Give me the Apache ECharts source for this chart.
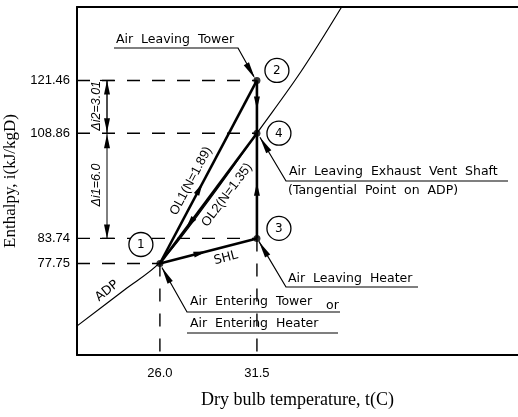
<!DOCTYPE html>
<html><head><meta charset="utf-8">
<script src="https://cdn.jsdelivr.net/npm/echarts@6/dist/echarts.min.js"></script>
<style>html,body{margin:0;padding:0;background:#fff}#c{width:518px;height:417px}</style>
</head><body><div id="c"></div>
<script>
// ---- data ----
const xTicks = [26.0, 31.5];
const yTicks = [77.75, 83.74, 108.86, 121.46];
const pointNames = ['1', '2', '3', '4'];
const pointT = [26.0, 31.5, 31.5, 31.5];
const pointI = [77.75, 121.46, 83.74, 108.86];
const adpT = [21.29, 24.0, 26.0, 28.8, 31.5, 34.0, 36.3];
const adpI = [62.8, 71.5, 78.0, 93.0, 108.86, 123.6, 139.0];
// process lines (index pairs into the point arrays)
const processLines = [[0, 1], [0, 3], [0, 2], [2, 1]];
const X_MIN = 21.3, X_MAX = 46.3, Y_MIN = 55.9, Y_MAX = 139.0;

const chart = echarts.init(document.getElementById('c'), null, {renderer: 'canvas'});
const BLK = '#000';
const P = i => [pointT[i], pointI[i]];

const series = [];
series.push({type: 'line', data: adpT.map((t, i) => [t, adpI[i]]), smooth: 0.35, symbol: 'none',
  lineStyle: {color: BLK, width: 1.2}, silent: true, z: 2});
// dashed guide lines
const dashed = [];
pointT.forEach((t, i) => dashed.push([[X_MIN, pointI[i]], [t, pointI[i]]]));
dashed.push([[pointT[0], pointI[0]], [pointT[0], Y_MIN]]);
dashed.push([[pointT[2], pointI[2]], [pointT[2], Y_MIN]]);
dashed.forEach(d => series.push({type: 'line', data: d, symbol: 'none', silent: true,
  lineStyle: {color: BLK, width: 1.4, type: [13, 12]}, z: 1}));
processLines.forEach(([a, b]) => series.push({type: 'line', data: [P(a), P(b)], symbol: 'none', silent: true,
  lineStyle: {color: BLK, width: 2.6}, z: 3}));
series.push({type: 'scatter', data: pointT.map((t, i) => [t, pointI[i]]), symbolSize: 7,
  itemStyle: {color: BLK}, silent: true, z: 4});

const axisCommon = {type: 'value', splitLine: {show: false}, axisTick: {show: false},
  axisLine: {show: true, onZero: false, lineStyle: {color: BLK, width: 2}}};
chart.setOption({
  animation: false,
  backgroundColor: '#fff',
  grid: {left: 77, right: 0, top: 7, bottom: 62, containLabel: false, outerBoundsMode: 'none'},
  xAxis: [
    Object.assign({}, axisCommon, {min: X_MIN, max: X_MAX, position: 'bottom',
      axisLabel: {customValues: xTicks, formatter: v => v.toFixed(1), color: BLK, fontSize: 13,
        fontFamily: 'Liberation Sans', margin: 12},
      name: 'Dry bulb temperature, t(C)', nameLocation: 'middle', nameGap: 36,
      nameTextStyle: {fontFamily: 'Liberation Serif', fontSize: 18, color: BLK}}),
    Object.assign({}, axisCommon, {min: X_MIN, max: X_MAX, position: 'top', axisLabel: {show: false}})
  ],
  yAxis: [
    Object.assign({}, axisCommon, {min: Y_MIN, max: Y_MAX, position: 'left',
      axisLabel: {customValues: yTicks, formatter: v => v.toFixed(2), color: BLK, fontSize: 13,
        fontFamily: 'Liberation Sans', margin: 7},
      name: 'Enthalpy, i(kJ/kgD)', nameLocation: 'middle', nameGap: 56, nameRotate: 90,
      nameTextStyle: {fontFamily: 'Liberation Serif', fontSize: 17, color: BLK}})
  ],
  series: series
});

// ---- annotations (pixel layout derived from the data points) ----
const px = i => chart.convertToPixel({xAxisIndex: 0, yAxisIndex: 0}, P(i));
const p = [0, 1, 2, 3].map(px);
const yPx = v => chart.convertToPixel({yAxisIndex: 0}, v);
const G = [];
const FONT = '12.5px "DejaVu Sans"';
function arrow(tip, dir, L, w) {
  const d = Math.hypot(dir[0], dir[1]); const ux = dir[0] / d, uy = dir[1] / d;
  const nx = -uy, ny = ux;
  const bx = tip[0] - L * ux, by = tip[1] - L * uy;
  G.push({type: 'polygon', shape: {points: [tip, [bx + w * nx, by + w * ny], [bx - w * nx, by - w * ny]]},
    style: {fill: BLK}, silent: true, z: 20});
}
function midArrow(a, b, f, L, w) {
  const tip = [a[0] + (b[0] - a[0]) * f, a[1] + (b[1] - a[1]) * f];
  arrow(tip, [b[0] - a[0], b[1] - a[1]], L || 12, w || 3);
}
function line(pts, width) {
  G.push({type: 'polyline', shape: {points: pts}, style: {stroke: BLK, lineWidth: width || 1.2, fill: null}, silent: true, z: 20});
}
function text(str, x, y, opts) {
  opts = opts || {};
  G.push({type: 'text', x: x, y: y, rotation: opts.rot || 0, silent: true, z: opts.z || 25,
    style: {text: str, font: opts.font || FONT, fill: BLK, align: opts.align || 'left', verticalAlign: 'middle',
      textAlign: opts.align || 'left', textVerticalAlign: 'middle'}});
}
function circleLabel(c, str) {
  G.push({type: 'circle', shape: {cx: c[0], cy: c[1], r: 12}, style: {fill: '#fff', stroke: BLK, lineWidth: 1.3}, silent: true, z: 22});
  text(str, c[0], c[1] + 0.5, {align: 'center', font: '12px "DejaVu Sans"', z: 30});
}
// mid-line arrows
midArrow(p[0], p[1], 0.44, 13, 3);          // OL1 towards 2
midArrow(p[3], p[0], 0.73, 13, 3);          // OL2
midArrow(p[0], p[2], 0.48, 13, 3);          // SHL
midArrow(p[2], p[3], 0.53, 13, 3);          // 3 -> 4
midArrow(p[1], p[3], 0.55, 13, 3);          // 2 -> 4
// circles
circleLabel([p[0][0] - 19, p[0][1] - 19], '1');
circleLabel([p[1][0] + 20, p[1][1] - 10], '2');
circleLabel([p[3][0] + 22, p[3][1]], '4');
circleLabel([p[2][0] + 22, p[2][1] - 10], '3');
// Air Leaving Tower
text('Air  Leaving  Tower', 116, 40);
line([[114, 48], [238, 48], [p[1][0] - 3, p[1][1] - 4]], 1.2);
arrow([p[1][0] - 2, p[1][1] - 2], [p[1][0] - 238, p[1][1] - 48], 17, 3);
// Air Leaving Exhaust Vent Shaft
text('Air  Leaving  Exhaust  Vent  Shaft', 289, 172);
text('(Tangential  Point  on  ADP)', 288, 191);
line([[508, 181], [286, 181], [p[3][0] + 3, p[3][1] + 4]], 1.2);
arrow([p[3][0] + 3, p[3][1] + 4], [p[3][0] - 286, p[3][1] - 181], 17, 3);
// Air Leaving Heater
text('Air  Leaving  Heater', 288, 279);
line([[418, 287], [286, 287], [p[2][0] + 2, p[2][1] + 3]], 1.2);
arrow([p[2][0] + 2, p[2][1] + 3], [p[2][0] - 286, p[2][1] - 287], 17, 3);
// Air Entering Tower / Heater
text('Air  Entering  Tower', 190, 302);
text('or', 326, 306);
text('Air  Entering  Heater', 190, 324);
line([[340, 312], [187, 312], [p[0][0] + 2, p[0][1] + 4]], 1.2);
line([[187, 333], [338, 333]], 1.2);
arrow([p[0][0] + 2, p[0][1] + 4], [p[0][0] - 187, p[0][1] - 312], 17, 3);
// line labels
const ang = (a, b) => Math.atan2(-(b[1] - a[1]), b[0] - a[0]);
const a1 = ang(p[0], p[1]), a2 = ang(p[0], p[3]), a3 = ang(p[0], p[2]);
text('OL1(N=1.89)', 191, 181, {rot: a1, align: 'center', font: '13px "Liberation Sans"'});
text('OL2(N=1.35)', 227, 195, {rot: a2, align: 'center', font: '13px "Liberation Sans"'});
text('SHL', 226, 258, {rot: a3, align: 'center', font: '12.5px "DejaVu Sans"'});
text('ADP', 107, 291, {rot: 0.68, align: 'center', font: '12.5px "DejaVu Sans"'});
// dimension lines
const dX = 107;
const y2 = yPx(121.46), y4 = yPx(108.86), y3 = yPx(83.74);
line([[dX, y2], [dX, y4]], 1.4);
line([[dX, y4], [dX, y3]], 1);
line([[dX - 7, y2], [dX + 7, y2]], 1.2);
line([[dX - 7, y3], [dX + 7, y3]], 1.2);
arrow([dX, y2], [0, -1], 14, 3);
arrow([dX, y4 - 1], [0, 1], 14, 3);
arrow([dX, y4 + 1], [0, -1], 14, 3);
arrow([dX, y3], [0, 1], 14, 3);
text('\u0394i2=3.01', 97, (y2 + y4) / 2 - 1, {rot: Math.PI / 2, align: 'center', font: 'italic 12.5px "Liberation Sans"'});
text('\u0394i1=6.0', 97, 185, {rot: Math.PI / 2, align: 'center', font: 'italic 12.5px "Liberation Sans"'});
chart.setOption({graphic: {elements: G}});
</script>
</body></html>
